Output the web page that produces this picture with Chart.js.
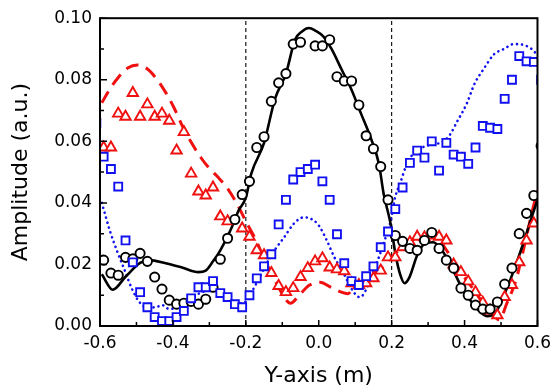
<!DOCTYPE html>
<html>
<head>
<meta charset="utf-8">
<script src="https://cdn.jsdelivr.net/npm/chart.js@4/dist/chart.umd.min.js"></script>
<style>
  html, body { margin: 0; padding: 0; background: #fff; }
  canvas { display: block; }
</style>
</head>
<body>
<canvas id="chart" width="558" height="391"></canvas>
<script>
// measured points [x (m), amplitude]
const blackCircles = [
  [-0.59,0.0214],[-0.57,0.0172],[-0.55,0.0165],[-0.53,0.0223],[-0.51,0.0218],[-0.49,0.0236],
  [-0.47,0.0210],[-0.45,0.0159],[-0.43,0.0120],[-0.41,0.0084],[-0.39,0.0071],[-0.37,0.0074],
  [-0.35,0.0080],[-0.33,0.0071],[-0.31,0.0087],[-0.29,0.0126],[-0.27,0.0217],[-0.25,0.0285],
  [-0.23,0.0346],[-0.21,0.0427],[-0.19,0.0470],[-0.17,0.0580],[-0.15,0.0615],[-0.13,0.0730],
  [-0.11,0.0790],[-0.09,0.0820],[-0.07,0.0916],[-0.05,0.0922],[-0.01,0.0910],[0.01,0.0910],
  [0.03,0.0930],[0.05,0.0810],[0.07,0.0796],[0.09,0.0796],[0.11,0.0718],[0.13,0.0618],
  [0.15,0.0576],[0.17,0.0518],[0.19,0.0410],[0.21,0.0294],[0.23,0.0275],[0.25,0.0252],
  [0.27,0.0246],[0.29,0.0278],[0.31,0.0304],[0.33,0.0252],[0.35,0.0214],[0.37,0.0188],
  [0.39,0.0123],[0.41,0.0100],[0.43,0.0068],[0.45,0.0055],[0.47,0.0055],[0.49,0.0078],
  [0.51,0.0136],[0.53,0.0188],[0.55,0.0300],[0.57,0.0366],[0.59,0.0424],[0.61,0.0585]
];
const redTriangles = [
  [-0.59,0.0580],[-0.57,0.0580],[-0.55,0.0690],[-0.53,0.0680],[-0.51,0.0757],[-0.49,0.0680],
  [-0.47,0.0720],[-0.45,0.0680],[-0.43,0.0690],[-0.41,0.0667],[-0.39,0.0570],[-0.37,0.0630],
  [-0.35,0.0495],[-0.33,0.0437],[-0.31,0.0424],[-0.29,0.0450],[-0.27,0.0356],[-0.25,0.0340],
  [-0.21,0.0317],[-0.19,0.0290],[-0.17,0.0246],[-0.15,0.0230],[-0.13,0.0172],[-0.11,0.0130],
  [-0.09,0.0110],[-0.07,0.0123],[-0.05,0.0159],[-0.03,0.0188],[-0.01,0.0210],[0.01,0.0220],
  [0.03,0.0190],[0.05,0.0184],[0.07,0.0178],[0.09,0.0139],[0.11,0.0133],[0.13,0.0139],
  [0.15,0.0155],[0.17,0.0180],[0.19,0.0223],[0.21,0.0223],[0.23,0.0256],[0.25,0.0272],
  [0.27,0.0290],[0.29,0.0288],[0.31,0.0294],[0.33,0.0290],[0.35,0.0278],[0.37,0.0200],
  [0.39,0.0175],[0.41,0.0145],[0.43,0.0110],[0.45,0.0076],[0.47,0.0050],[0.49,0.0035],
  [0.51,0.0094],[0.53,0.0133],[0.55,0.0207],[0.57,0.0278],[0.59,0.0333],[0.61,0.0420]
];
const blueSquares = [
  [-0.61,0.0660],[-0.59,0.0550],[-0.57,0.0510],[-0.55,0.0453],[-0.53,0.0278],[-0.51,0.0207],
  [-0.49,0.0110],[-0.47,0.0061],[-0.45,0.0029],[-0.43,0.0016],[-0.41,0.0016],[-0.39,0.0029],
  [-0.37,0.0049],[-0.35,0.0090],[-0.33,0.0126],[-0.31,0.0126],[-0.29,0.0146],[-0.27,0.0107],
  [-0.25,0.0094],[-0.23,0.0071],[-0.21,0.0061],[-0.19,0.0100],[-0.17,0.0155],[-0.15,0.0194],
  [-0.13,0.0233],[-0.11,0.0330],[-0.09,0.0410],[-0.07,0.0476],[-0.05,0.0500],[-0.03,0.0510],
  [-0.01,0.0524],[0.01,0.0470],[0.03,0.0410],[0.05,0.0298],[0.07,0.0204],[0.09,0.0146],
  [0.11,0.0133],[0.13,0.0162],[0.15,0.0194],[0.17,0.0256],[0.19,0.0307],[0.21,0.0380],
  [0.23,0.0450],[0.25,0.0530],[0.27,0.0570],[0.29,0.0547],[0.31,0.0600],[0.33,0.0505],
  [0.35,0.0595],[0.37,0.0557],[0.39,0.0550],[0.41,0.0527],[0.43,0.0580],[0.45,0.0650],
  [0.47,0.0644],[0.49,0.0640],[0.51,0.0738],[0.53,0.0800],[0.55,0.0877],[0.57,0.0860],
  [0.59,0.0858],[0.61,0.0800]
];

// simulated curves
const blackLine = [
  [-0.595,0.0168],[-0.565,0.0118],[-0.53,0.0160],[-0.49,0.0205],[-0.465,0.0214],[-0.42,0.0204],
  [-0.375,0.0190],[-0.33,0.0175],[-0.31,0.0180],[-0.29,0.0210],[-0.27,0.0246],[-0.24,0.0317],
  [-0.22,0.0375],[-0.20,0.0417],[-0.185,0.0495],[-0.15,0.0595],[-0.12,0.0738],[-0.09,0.0820],
  [-0.065,0.0930],[-0.045,0.0958],[-0.027,0.0968],[-0.01,0.0960],[0.013,0.0940],[0.035,0.0900],
  [0.062,0.0835],[0.089,0.0770],[0.116,0.0690],[0.143,0.0610],[0.165,0.0527],[0.178,0.0430],
  [0.197,0.0333],[0.211,0.0230],[0.224,0.0165],[0.235,0.0139],[0.249,0.0159],[0.27,0.0230],
  [0.292,0.0269],[0.314,0.0272],[0.338,0.0246],[0.365,0.0190],[0.392,0.0126],[0.419,0.0078],
  [0.446,0.0042],[0.462,0.0032],[0.486,0.0045],[0.508,0.0100],[0.535,0.0180],[0.562,0.0272],
  [0.584,0.0353],[0.60,0.0410]
];
const redLine = [
  [-0.595,0.0725],[-0.573,0.0770],[-0.551,0.0806],[-0.524,0.0838],[-0.497,0.0848],[-0.47,0.0835],
  [-0.443,0.0800],[-0.419,0.0757],[-0.397,0.0709],[-0.375,0.0652],[-0.349,0.0595],[-0.322,0.0545],
  [-0.30,0.0512],[-0.276,0.0483],[-0.249,0.0445],[-0.222,0.0392],[-0.20,0.0340],[-0.175,0.0285],
  [-0.15,0.0220],[-0.125,0.0160],[-0.10,0.0105],[-0.078,0.0074],[-0.05,0.0105],[-0.025,0.0133],
  [0.003,0.0142],[0.035,0.0125],[0.062,0.0110],[0.08,0.0105],[0.097,0.0126],[0.124,0.0149],
  [0.15,0.0170],[0.175,0.0190],[0.20,0.0223],[0.243,0.0270],[0.287,0.0290],[0.324,0.0285],
  [0.354,0.0240],[0.386,0.0180],[0.422,0.0123],[0.459,0.0061],[0.484,0.0029],[0.495,0.0020],
  [0.516,0.0074],[0.541,0.0149],[0.562,0.0250],[0.586,0.0375],[0.60,0.0440]
];
const blueLine = [
  [-0.595,0.0400],[-0.573,0.0310],[-0.554,0.0246],[-0.532,0.0180],[-0.511,0.0117],[-0.492,0.0078],
  [-0.47,0.0060],[-0.446,0.0061],[-0.43,0.0068],[-0.41,0.0055],[-0.38,0.0065],[-0.35,0.0090],
  [-0.32,0.0110],[-0.29,0.0115],[-0.26,0.0095],[-0.23,0.0075],[-0.208,0.0074],[-0.186,0.0107],
  [-0.162,0.0159],[-0.141,0.0207],[-0.119,0.0250],[-0.095,0.0288],[-0.068,0.0333],[-0.041,0.0353],
  [-0.024,0.0350],[0.0,0.0327],[0.022,0.0278],[0.043,0.0223],[0.068,0.0172],[0.089,0.0123],
  [0.111,0.0094],[0.124,0.0105],[0.143,0.0159],[0.162,0.0214],[0.178,0.0269],[0.197,0.0340],
  [0.21,0.0420],[0.224,0.0466],[0.238,0.0515],[0.259,0.0560],[0.284,0.0580],[0.311,0.0590],
  [0.338,0.0597],[0.359,0.0620],[0.381,0.0667],[0.405,0.0720],[0.427,0.0786],[0.454,0.0838],
  [0.481,0.0883],[0.508,0.0900],[0.535,0.0916],[0.562,0.0913],[0.584,0.0900],[0.60,0.0880]
];

const markerX = [-0.2, 0.2];

const xTickValues = [-0.6, -0.4, -0.2, 0, 0.2, 0.4, 0.6];
const xTickLabels = ['-0.6', '-0.4', '-0.2', '0.0', '0.2', '0.4', '0.6'];
const xMinorValues = [-0.5, -0.3, -0.1, 0.1, 0.3, 0.5];
const yTickValues = [0, 0.02, 0.04, 0.06, 0.08, 0.10];
const yTickLabels = ['0.00', '0.02', '0.04', '0.06', '0.08', '0.10'];
const yMinorValues = [0.01, 0.03, 0.05, 0.07, 0.09];

const toXY = arr => arr.map(p => ({ x: p[0], y: p[1] }));

Chart.defaults.font.family = "'DejaVu Sans', sans-serif";
Chart.defaults.color = '#000';

// box around the plot + inward ticks
const frame = {
  id: 'frame',
  afterDatasetsDraw(chart) {
    const { ctx, chartArea: a, scales: { x, y } } = chart;
    ctx.save();
    ctx.strokeStyle = '#000';
    ctx.lineWidth = 1.5;
    ctx.beginPath();
    xTickValues.forEach(v => { const p = x.getPixelForValue(v); ctx.moveTo(p, a.bottom); ctx.lineTo(p, a.bottom - 6); });
    xMinorValues.forEach(v => { const p = x.getPixelForValue(v); ctx.moveTo(p, a.bottom); ctx.lineTo(p, a.bottom - 4); });
    yTickValues.forEach(v => { const p = y.getPixelForValue(v); ctx.moveTo(a.left, p); ctx.lineTo(a.left + 7, p); });
    yMinorValues.forEach(v => { const p = y.getPixelForValue(v); ctx.moveTo(a.left, p); ctx.lineTo(a.left + 4, p); });
    ctx.stroke();
    ctx.lineWidth = 2;
    ctx.strokeRect(a.left, a.top, a.right - a.left, a.bottom - a.top);
    ctx.restore();
  }
};

const pointSet = (label, data, style, radius, color) => ({
  label, data: toXY(data), showLine: false, clip: 0,
  pointStyle: style, pointRadius: radius, pointHoverRadius: radius,
  pointBorderColor: color, pointBackgroundColor: '#fff', pointBorderWidth: 1.9
});
const lineSet = (label, data, color, width, dash, cap) => ({
  label, data: toXY(data), showLine: true, pointRadius: 0, clip: 0,
  borderColor: color, borderWidth: width, borderDash: dash, borderCapStyle: cap,
  cubicInterpolationMode: 'monotone', fill: false
});

new Chart(document.getElementById('chart'), {
  type: 'scatter',
  data: {
    datasets: [
      pointSet('Squares', blueSquares, 'rect', 5.6, '#1010f0'),
      pointSet('Circles', blackCircles, 'circle', 4.6, '#000'),
      pointSet('Triangles', redTriangles, 'triangle', 6, '#f01010'),
      lineSet('Black', blackLine, '#000', 2.6, [], 'butt'),
      lineSet('Red', redLine, '#f01010', 3, [13, 8], 'butt'),
      lineSet('Blue', blueLine, '#1010f0', 2.6, [0.1, 5], 'round'),
      ...markerX.map(v => ({
        data: [{ x: v, y: 0 }, { x: v, y: 0.1 }], showLine: true, pointRadius: 0,
        borderColor: '#000', borderWidth: 1.1, borderDash: [4, 3], clip: 0
      }))
    ]
  },
  options: {
    responsive: false,
    animation: false,
    devicePixelRatio: 1,
    layout: { padding: { top: 17, right: 15, left: 0, bottom: 0 } },
    plugins: { legend: { display: false }, tooltip: { enabled: false } },
    scales: {
      x: {
        type: 'linear', min: -0.6, max: 0.6,
        afterBuildTicks: s => { s.ticks = xTickValues.map(v => ({ value: v })); },
        afterFit: s => { s.height = 65; },
        grid: { display: false, drawTicks: false },
        border: { display: false },
        ticks: { padding: 7, font: { size: 17 }, callback: (v, i) => xTickLabels[i] },
        title: { display: true, text: 'Y-axis (m)', font: { size: 22 }, padding: { top: 0, bottom: 2 } }
      },
      y: {
        type: 'linear', min: 0, max: 0.1,
        afterBuildTicks: s => { s.ticks = yTickValues.map(v => ({ value: v })); },
        afterFit: s => { s.width = 100; },
        grid: { display: false, drawTicks: false },
        border: { display: false },
        ticks: { padding: 8, font: { size: 17 }, callback: (v, i) => yTickLabels[i] },
        title: { display: true, text: 'Amplitude (a.u.)', font: { size: 22 }, padding: { top: 8, bottom: 0 } }
      }
    }
  },
  plugins: [frame]
});
</script>
</body>
</html>
